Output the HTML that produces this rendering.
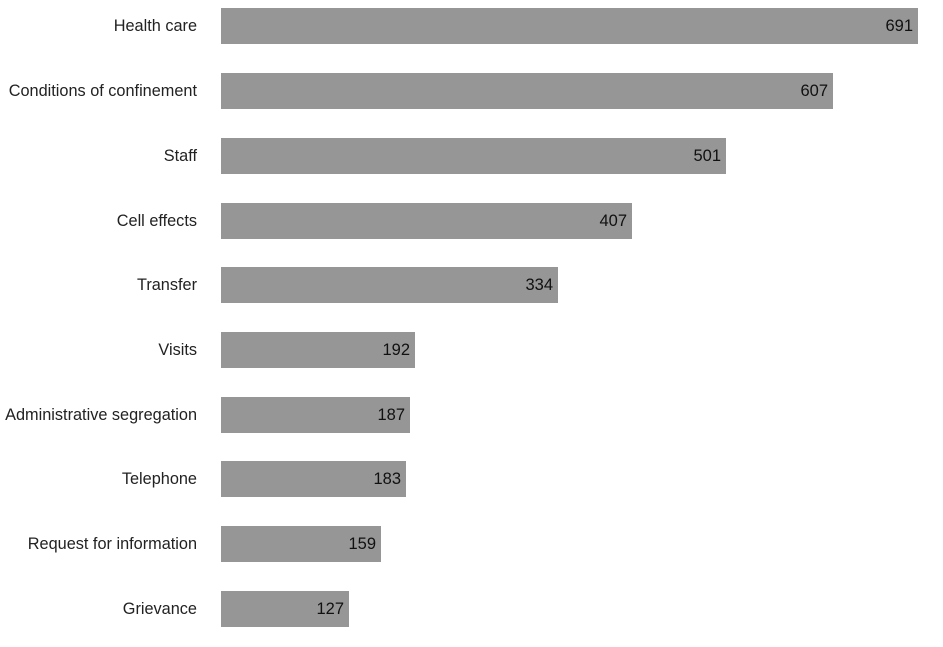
<!DOCTYPE html>
<html><head><meta charset="utf-8"><style>
body{margin:0;width:943px;height:647px;background:#fff;font-family:"Liberation Sans",sans-serif;position:relative;overflow:hidden}
.l{position:absolute;right:746px;font-size:16.3px;color:#222;white-space:nowrap;line-height:36px;height:36px}
.b{position:absolute;left:221px;height:36px;background:#969696}
.v{position:absolute;right:5px;top:0;line-height:36px;font-size:16.5px;color:#111}
</style></head><body>
<div class="l" style="top:8px">Health care</div><div class="b" style="top:8px;width:697px"><span class="v">691</span></div>
<div class="l" style="top:73px">Conditions of confinement</div><div class="b" style="top:73px;width:612px"><span class="v">607</span></div>
<div class="l" style="top:138px">Staff</div><div class="b" style="top:138px;width:505px"><span class="v">501</span></div>
<div class="l" style="top:203px">Cell effects</div><div class="b" style="top:203px;width:411px"><span class="v">407</span></div>
<div class="l" style="top:267px">Transfer</div><div class="b" style="top:267px;width:337px"><span class="v">334</span></div>
<div class="l" style="top:332px">Visits</div><div class="b" style="top:332px;width:194px"><span class="v">192</span></div>
<div class="l" style="top:397px">Administrative segregation</div><div class="b" style="top:397px;width:189px"><span class="v">187</span></div>
<div class="l" style="top:461px">Telephone</div><div class="b" style="top:461px;width:185px"><span class="v">183</span></div>
<div class="l" style="top:526px">Request for information</div><div class="b" style="top:526px;width:160px"><span class="v">159</span></div>
<div class="l" style="top:591px">Grievance</div><div class="b" style="top:591px;width:128px"><span class="v">127</span></div>
</body></html>
